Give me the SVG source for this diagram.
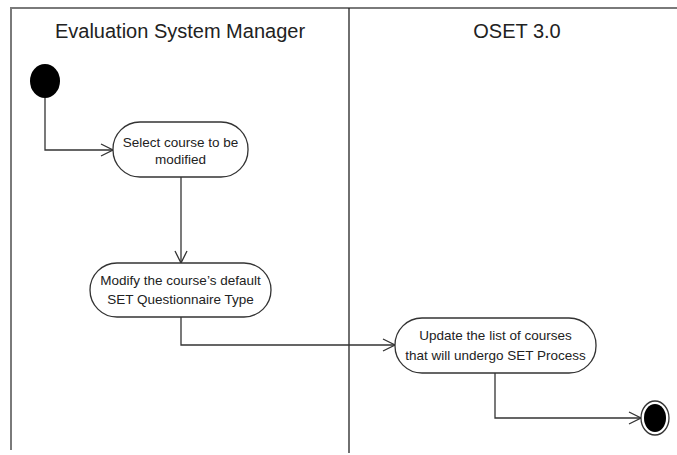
<svg xmlns="http://www.w3.org/2000/svg" width="677" height="455" viewBox="0 0 677 455">
<defs>
<style>
.frame{stroke:#7a7a7a;stroke-width:2;fill:none}
.lane{stroke:#222;stroke-width:1.3;fill:none}
.title{font-family:"Liberation Sans",Arial,sans-serif;font-size:20px;fill:#222;text-anchor:middle}
.act{fill:#fff;stroke:#333;stroke-width:1.3}
.lbl{font-family:"Liberation Sans",Arial,sans-serif;font-size:13.5px;fill:#222;text-anchor:middle}
.conn{stroke:#333;stroke-width:1.3;fill:none}
</style>
<marker id="arr" viewBox="0 0 14 14" refX="13" refY="7" markerWidth="14" markerHeight="14" markerUnits="userSpaceOnUse" orient="auto">
<path d="M1,1 L13,7 L1,13" fill="none" stroke="#333" stroke-width="1.3"/>
</marker>
</defs>
<rect width="677" height="455" fill="#fff"/>
<g id="swimlanes">
<line class="frame" x1="10" y1="8" x2="677" y2="8"/>
<line class="frame" x1="11" y1="8" x2="11" y2="450"/>
<line class="lane" x1="349" y1="8" x2="349" y2="453"/>
<text class="title" x="180" y="38">Evaluation System Manager</text>
<text class="title" x="517" y="38">OSET 3.0</text>
</g>
<g id="connectors">
<path class="conn" d="M45,98 V150 H113" marker-end="url(#arr)"/>
<path class="conn" d="M181,177 V263" marker-end="url(#arr)"/>
<path class="conn" d="M181,317 V345 H395" marker-end="url(#arr)"/>
<path class="conn" d="M495,373 V418 H641" marker-end="url(#arr)"/>
</g>
<g id="start">
<ellipse cx="45" cy="81" rx="15" ry="17" fill="#000"/>
</g>
<g id="select-course">
<rect class="act" x="113" y="122" width="135" height="55" rx="27" ry="27"/>
<text class="lbl" x="180.5" y="147">Select course to be</text>
<text class="lbl" x="180.5" y="164">modified</text>
</g>
<g id="modify-type">
<rect class="act" x="90" y="263" width="181" height="54" rx="27" ry="27"/>
<text class="lbl" x="180.5" y="285">Modify the course’s default</text>
<text class="lbl" x="180.5" y="304">SET Questionnaire Type</text>
</g>
<g id="update-list">
<rect class="act" x="395" y="318" width="201" height="55" rx="27" ry="27"/>
<text class="lbl" x="495.5" y="340">Update the list of courses</text>
<text class="lbl" x="495.5" y="360">that will undergo SET Process</text>
</g>
<g id="end">
<ellipse cx="655" cy="418" rx="14" ry="17" fill="#fff" stroke="#333" stroke-width="1.3"/>
<ellipse cx="655" cy="418" rx="11" ry="14" fill="#000"/>
</g>
</svg>
